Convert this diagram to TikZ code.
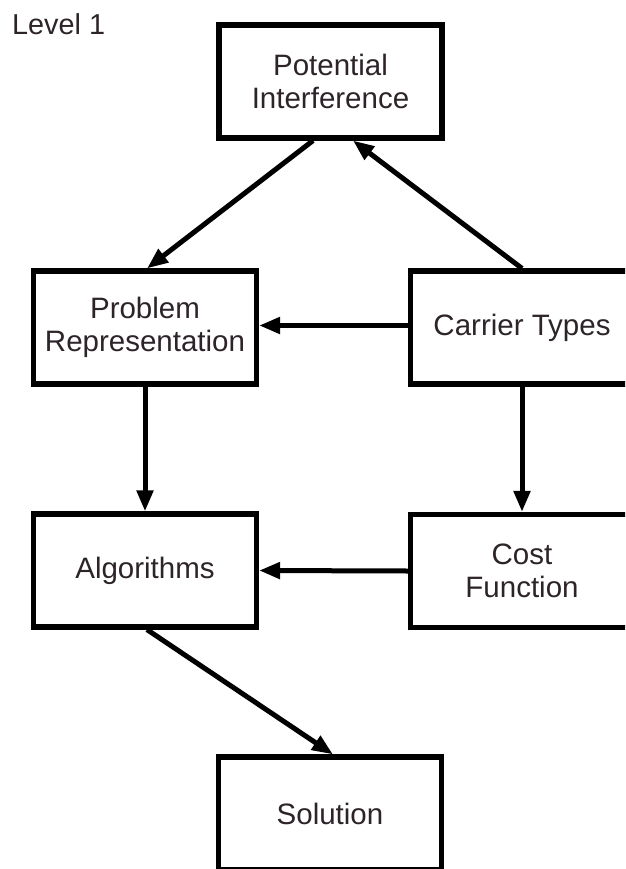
\documentclass[tikz,border=0pt]{standalone}
\usepackage{fontspec}
\setmainfont{Liberation Sans}
\usetikzlibrary{arrows.meta}
\definecolor{txt}{RGB}{45,36,42}
\begin{document}
\begin{tikzpicture}[x=1pt,y=-1pt,
  box/.style={draw=black, line width=5.2pt, minimum width=223pt, minimum height=113pt,
    align=center, text=txt, font=\fontsize{29.5}{33}\selectfont, inner sep=0pt},
  arr/.style={line width=5pt, -{Triangle[length=21pt,width=16pt]}}]
\clip (0,0) rectangle (625,869);
\fill[white] (0,0) rectangle (625,869);
\node[anchor=base west, inner sep=0pt, text=txt, font=\fontsize{28.8}{33}\selectfont] (lvl) at (12,35) {Level 1};
\node[box] (pi) at (330.5,81.5) {Potential\\Interference};
\node[box] (pr) at (145,327.5) {Problem\\Representation};
\node[box] (ct) at (522,327.5) {Carrier Types};
\node[box] (al) at (145,570.5) {Algorithms};
\node[box] (cf) at (522,571) {Cost\\Function};
\node[box] (so) at (330,813.5) {Solution};
\draw[arr] ([xshift=-17.5pt]pi.south) -- ([xshift=2pt]pr.north);
\draw[arr] (ct.north) -- ([xshift=22.5pt]pi.south);
\draw[arr] ([yshift=2pt]ct.west) -- ([yshift=2pt]pr.east);
\draw[arr] (pr.south) -- (al.north);
\draw[arr] (ct.south) -- (cf.north);
\draw[arr] (cf.west) -- (al.east);
\draw[arr] ([xshift=2pt]al.south) -- ([xshift=3pt]so.north);
\end{tikzpicture}
\end{document}
